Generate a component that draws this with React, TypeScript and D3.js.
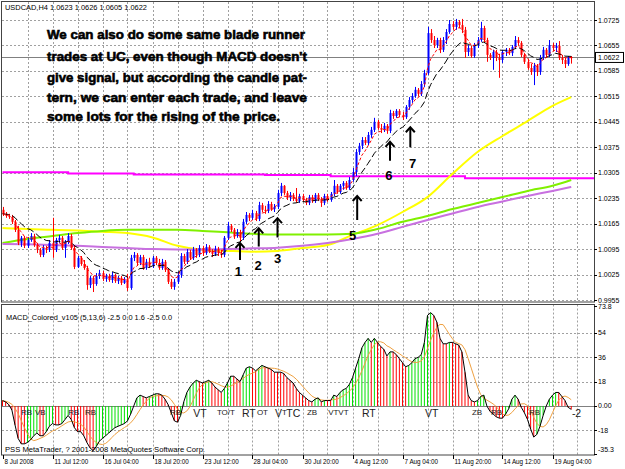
import React from "react";
import * as d3 from "d3";

// header / footer texts
const SYMBOL_HEADER = "USDCAD,H4  1.0623 1.0626 1.0605 1.0622";
const MACD_LEGEND = "MACD_Colored_v105 (5,13,6) -2.5 0.0 1.6 -2.5 0.0";
const COPYRIGHT = "PSS MetaTrader, ? 2001-2008 MetaQuotes Software Corp.";

const NOTE_LINES = [
  "We can also do some same blade runner",
  "trades at UC, even though MACD doesn't",
  "give signal, but according the candle pat-",
  "tern, we can enter each trade, and leave",
  "some lots for the rising of the price.",
];

// H4 candles, open of each bar = close of the previous one
const FIRST_OPEN = 1.0203;
const CLOSES = [
  1.0192, 1.0186, 1.0183, 1.017, 1.0148, 1.0112, 1.0126, 1.0104, 1.012, 1.0131,
  1.0106, 1.0093, 1.0079, 1.0098, 1.0093, 1.0112, 1.0093, 1.012, 1.0126, 1.0098,
  1.0115, 1.0131, 1.0098, 1.0046, 1.0071, 1.0054, 1.0043, 0.9996, 1.0016, 0.9999,
  1.0021, 1.0029, 1.0013, 1.0021, 1.001, 1.0024, 1.0007, 1.0016, 1.0002, 1.0013,
  0.9988, 1.0071, 1.0079, 1.0057, 1.0073, 1.0043, 1.006, 1.0049, 1.0071, 1.0057,
  1.0043, 1.006, 1.0038, 1.0005, 0.9991, 1.0005, 1.0024, 1.0076, 1.006, 1.0087,
  1.0071, 1.0093, 1.0079, 1.0098, 1.0084, 1.0101, 1.009, 1.0082, 1.0095, 1.0084,
  1.0079, 1.0126, 1.0159, 1.0148, 1.0131, 1.0142, 1.0126, 1.017, 1.0189, 1.0181,
  1.0194, 1.0178, 1.0216, 1.0203, 1.02, 1.0219, 1.0205, 1.0211, 1.0249, 1.0269,
  1.0249, 1.0236, 1.0244, 1.0233, 1.0227, 1.0241, 1.023, 1.0222, 1.0238, 1.0227,
  1.0244, 1.0233, 1.0222, 1.0241, 1.023, 1.0247, 1.0269, 1.0252, 1.0269, 1.0277,
  1.0263, 1.0285, 1.0307, 1.0362, 1.0379, 1.0395, 1.0387, 1.0409, 1.0423, 1.0445,
  1.0428, 1.0423, 1.0434, 1.042, 1.0469, 1.0461, 1.0475, 1.0464, 1.0458, 1.0486,
  1.0505, 1.0516, 1.0533, 1.0522, 1.0549, 1.0579, 1.0689, 1.067, 1.0656, 1.067,
  1.0643, 1.067, 1.0692, 1.0714, 1.0706, 1.072, 1.0711, 1.0698, 1.0637, 1.0648,
  1.0626, 1.0656, 1.067, 1.0703, 1.067, 1.0629, 1.0621, 1.0637, 1.0621, 1.0615,
  1.0637, 1.0643, 1.0634, 1.0651, 1.067, 1.0662, 1.0629, 1.061, 1.0593, 1.0582,
  1.0599, 1.0582, 1.0621, 1.0643, 1.0629, 1.0656, 1.0648, 1.0654, 1.0621, 1.0615,
  1.0604, 1.0623, 1.0622,
];
const HIGHS = [
  1.0211, 1.0197, 1.0192, 1.0189, 1.0175, 1.0159, 1.0131, 1.0131, 1.0126, 1.0139,
  1.0137, 1.0112, 1.0098, 1.0106, 1.0104, 1.012, 1.0181, 1.0126, 1.0134, 1.0131,
  1.012, 1.0139, 1.0137, 1.0106, 1.0076, 1.0076, 1.0065, 1.0049, 1.0021, 1.0021,
  1.0029, 1.0038, 1.0035, 1.0027, 1.0027, 1.0032, 1.0027, 1.0021, 1.0021, 1.0018,
  1.0027, 1.0079, 1.0087, 1.0084, 1.0079, 1.0079, 1.0068, 1.0071, 1.0076, 1.0076,
  1.0068, 1.0068, 1.0065, 1.0043, 1.0013, 1.0013, 1.0032, 1.0084, 1.0082, 1.0095,
  1.0093, 1.0101, 1.0098, 1.0106, 1.0104, 1.0109, 1.0106, 1.0095, 1.0104, 1.0101,
  1.0093, 1.0131, 1.017, 1.0164, 1.0153, 1.015, 1.0148, 1.0178, 1.0197, 1.0194,
  1.0203, 1.02, 1.0225, 1.0222, 1.0214, 1.0227, 1.0225, 1.0219, 1.0258, 1.0277,
  1.0271, 1.0255, 1.0252, 1.0249, 1.0263, 1.0247, 1.0247, 1.0236, 1.0244, 1.0244,
  1.0249, 1.0249, 1.0238, 1.0247, 1.0247, 1.0252, 1.0285, 1.0274, 1.0274, 1.0282,
  1.0282, 1.0293, 1.0318, 1.037, 1.0387, 1.0403, 1.0403, 1.0417, 1.0431, 1.0456,
  1.045, 1.0439, 1.0442, 1.0439, 1.0478, 1.0475, 1.048, 1.048, 1.0472, 1.0491,
  1.0513, 1.0524, 1.0541, 1.0538, 1.0557, 1.0588, 1.0706, 1.07, 1.0681, 1.0676,
  1.0676, 1.0678, 1.07, 1.0725, 1.0722, 1.0728, 1.0725, 1.0728, 1.0706, 1.0656,
  1.0654, 1.0662, 1.0678, 1.072, 1.0709, 1.0676, 1.0634, 1.0643, 1.0643, 1.0632,
  1.0643, 1.0648, 1.0648, 1.0656, 1.0681, 1.0678, 1.0667, 1.0634, 1.0615, 1.0604,
  1.0607, 1.0604, 1.0629, 1.0651, 1.0648, 1.067, 1.0662, 1.0662, 1.0667, 1.0629,
  1.0621, 1.0626, 1.0626,
];
const LOWS = [
  1.0186, 1.0181, 1.0178, 1.0164, 1.0142, 1.0106, 1.0101, 1.0098, 1.0098, 1.0115,
  1.0101, 1.0084, 1.0073, 1.0073, 1.0084, 1.0087, 1.0071, 1.0087, 1.0112, 1.0093,
  1.0071, 1.0109, 1.0093, 1.004, 1.0043, 1.0049, 1.0038, 0.9983, 0.9988, 0.9977,
  0.9994, 1.0013, 1.0007, 1.0005, 1.0005, 1.0002, 1.0002, 0.9999, 0.9996, 0.9999,
  0.998, 0.9983, 1.0062, 1.0049, 1.0051, 1.0038, 1.0038, 1.0043, 1.0043, 1.0051,
  1.0038, 1.0038, 1.0032, 0.9999, 0.9985, 0.9983, 0.9999, 1.0016, 1.0054, 1.0054,
  1.0065, 1.0065, 1.0071, 1.0073, 1.0076, 1.0079, 1.0084, 1.0073, 1.0076, 1.0076,
  1.0071, 1.0073, 1.012, 1.0142, 1.0123, 1.0126, 1.0117, 1.012, 1.0164, 1.0172,
  1.0175, 1.0172, 1.0172, 1.0197, 1.0192, 1.0194, 1.02, 1.0197, 1.0205, 1.0241,
  1.0244, 1.023, 1.0227, 1.0227, 1.0222, 1.0222, 1.0225, 1.0216, 1.0216, 1.0222,
  1.0222, 1.0227, 1.0211, 1.0216, 1.0225, 1.0225, 1.0241, 1.0247, 1.0247, 1.0258,
  1.0258, 1.0258, 1.028, 1.0296, 1.0354, 1.037, 1.0381, 1.0381, 1.0401, 1.0417,
  1.0423, 1.0414, 1.0417, 1.0412, 1.0414, 1.0453, 1.0456, 1.0458, 1.045, 1.0453,
  1.0478, 1.0497, 1.0511, 1.0516, 1.0516, 1.0541, 1.0574, 1.0662, 1.0648, 1.0648,
  1.0634, 1.0637, 1.0659, 1.0687, 1.0698, 1.0698, 1.0703, 1.0689, 1.0621, 1.0626,
  1.0621, 1.0621, 1.0648, 1.0665, 1.0662, 1.061, 1.0615, 1.0588, 1.0612, 1.0566,
  1.0607, 1.0626, 1.0629, 1.0626, 1.0645, 1.0654, 1.0623, 1.0604, 1.0588, 1.0574,
  1.0546, 1.0571, 1.0574, 1.0615, 1.0623, 1.0623, 1.064, 1.0637, 1.0615, 1.0604,
  1.0593, 1.0599, 1.0605,
];

// MACD main line
const MACD = [
  4, 3, 1, -3, -14, -24, -28, -28, -27, -25,
  -22, -20, -22, -22, -19, -15, -13, -14, -14, -13,
  -10, -7, -10, -16, -19, -19, -22, -27, -31, -33,
  -30, -26, -24, -22, -20, -18, -16, -15, -14, -13,
  -11, -6, 0, 6, 8, 7, 6, 7, 8, 9,
  9, 8, 5, 1, -5, -11, -12, -7, 3, 10,
  14, 17, 19, 18, 17, 18, 19, 17, 14, 12,
  10, 13, 17, 22, 22, 20, 18, 23, 28, 29,
  28, 26, 28, 30, 29, 28, 27, 25, 25, 25,
  24, 21, 19, 17, 13, 10, 8, 6, 4, 3,
  5, 6, 3, 4, 4, 4, 8, 7, 10, 12,
  13, 16, 21, 28, 35, 43, 47, 50, 47, 50,
  47, 44, 42, 37, 40, 40, 38, 35, 32, 29,
  30, 32, 35, 36, 38, 47, 67, 69, 67, 62,
  50, 46, 46, 47, 47, 46, 45, 40, 25, 8,
  4, 3, 4, 7, 8, 0, -4, -6, -8, -9,
  -9, -6, -2, 5, 8, 5, -1, -5, -10, -17,
  -23, -21, -15, -7, 0, 5, 8, 10, 10, 7,
  4, -1, -2.5,
];

// long moving averages, read every 8 bars
const MA_BARS = [0, 8, 16, 24, 32, 40, 48, 56, 64, 72, 80, 88, 96, 104, 112, 120, 128, 136, 144, 152, 160, 168, 176, 182];
const YELLOW_MA = [1.0153, 1.015, 1.0148, 1.0146, 1.0143, 1.0139, 1.0127, 1.0104, 1.0093, 1.009, 1.0088, 1.009, 1.0098, 1.0106, 1.0134, 1.0161, 1.0197, 1.0238, 1.0302, 1.0362, 1.0406, 1.0447, 1.0489, 1.0513];
const GREEN_MA = [1.0112, 1.0123, 1.0131, 1.0139, 1.0145, 1.0148, 1.0148, 1.0148, 1.0145, 1.0141, 1.0137, 1.0135, 1.0135, 1.0135, 1.0137, 1.015, 1.017, 1.0186, 1.0205, 1.0222, 1.0238, 1.0255, 1.0269, 1.0285];
const PURPLE_MA = [1.0109, 1.0108, 1.0106, 1.0104, 1.0101, 1.0098, 1.0095, 1.0094, 1.0094, 1.0095, 1.0097, 1.0099, 1.0104, 1.0112, 1.0123, 1.0137, 1.0156, 1.0175, 1.0193, 1.0211, 1.0226, 1.0241, 1.0255, 1.0266];
const MAGENTA_BARS = [0, 21, 42, 84, 105, 148, 190];
const MAGENTA_MA = [1.0306, 1.0303, 1.03, 1.0299, 1.0295, 1.029, 1.029];

const PRICE_TICKS = [1.0725, 1.0655, 1.0585, 1.0515, 1.0445, 1.0375, 1.0305, 1.0235, 1.0165, 1.0095, 1.0025, 0.9955];
const MACD_TICKS = [73.8, 54, 36, 18, 0, -18, -35.3];
const MACD_TICK_TEXT = ["73.8", "54", "36", "18", "0.00", "-18", "-35.3"];
const MACD_GRID = [54, 36, 18, -18];
const BID = 1.0622;

const TIME_LABELS = ["8 Jul 2008", "11 Jul 12:00", "16 Jul 04:00", "18 Jul 20:00", "23 Jul 12:00", "28 Jul 04:00", "30 Jul 20:00", "4 Aug 12:00", "7 Aug 04:00", "11 Aug 20:00", "14 Aug 12:00", "19 Aug 04:00"];
const TIME_LABEL_BARS = [0, 16, 32, 48, 64, 80, 96, 112, 128, 144, 160, 176];

const ARROWS = [
  { label: "1", bar: 76, tip: 1.0112, base: 1.0065, textBar: 75.5, textPrice: 1.0021 },
  { label: "2", bar: 82, tip: 1.0152, base: 1.0102, textBar: 81.8, textPrice: 1.0038 },
  { label: "3", bar: 88, tip: 1.018, base: 1.0127, textBar: 88, textPrice: 1.0057 },
  { label: "5", bar: 113.5, tip: 1.0241, base: 1.0175, textBar: 112, textPrice: 1.0121 },
  { label: "6", bar: 124, tip: 1.039, base: 1.0338, textBar: 123.6, textPrice: 1.0285 },
  { label: "7", bar: 130.5, tip: 1.043, base: 1.0375, textBar: 131.2, textPrice: 1.0317 },
];

const MACD_MARKS = [
  { text: "RB", bar: 5.9, big: false },
  { text: "VB", bar: 10.4, big: false },
  { text: "RB", bar: 21, big: false },
  { text: "RB", bar: 26.4, big: false },
  { text: "RB", bar: 53.6, big: false },
  { text: "VT", bar: 61, big: true },
  { text: "TO/T", bar: 68.6, big: false },
  { text: "RT", bar: 76.6, big: true },
  { text: "OT", bar: 81.4, big: false },
  { text: "V", bar: 87.2, big: true },
  { text: "T", bar: 89.4, big: false },
  { text: "TC", bar: 90.8, big: true },
  { text: "ZB", bar: 97.4, big: false },
  { text: "VTVT", bar: 104.2, big: false },
  { text: "RT", bar: 115, big: true },
  { text: "VT", bar: 135.2, big: true },
  { text: "ZB", bar: 150.2, big: false },
  { text: "RB", bar: 156.3, big: false },
  { text: "RB", bar: 168.5, big: false },
  { text: "-2", bar: 182.2, big: true },
];

function ema(values: number[], period: number) {
  const k = 2 / (period + 1);
  const out: number[] = [];
  values.forEach((v, i) => out.push(i === 0 ? v : out[i - 1] + k * (v - out[i - 1])));
  return out;
}

function sma(values: number[], period: number) {
  return values.map((_, i) => d3.mean(values.slice(Math.max(0, i - period + 1), i + 1)) as number);
}

const FONT = "'Liberation Sans', Arial, sans-serif";

export default function App() {
  const left = 2, right = 594, top = 2, mainBottom = 302, macdTop = 304.5, bottom = 455;

  const x = d3.scaleLinear().domain([0, 182]).range([2.5, 571.25]);
  const y = d3.scaleLinear().domain([0.9955, 1.0725]).range([300, 20]);
  const ym = d3.scaleLinear().domain([-35.3, 73.8]).range([453.7, 306.2]);

  const opens = CLOSES.map((c, i) => (i === 0 ? FIRST_OPEN : CLOSES[i - 1]));
  const fast = ema(CLOSES, 5);
  const slow = ema(CLOSES, 13);
  const signal = sma(MACD, 6);

  const seriesLine = d3.line<number>().x((_, i) => x(i)).y((d) => y(d));
  const sampledLine = (bars: number[], vals: number[], curve: any) =>
    d3.line<number>().x((_, i) => x(bars[i])).y((d) => y(d)).curve(curve)(vals) || "";
  const macdLine = d3.line<number>().x((_, i) => x(i)).y((d) => ym(d));

  const gridBars = d3.range(8, 185, 8);

  return (
    <div style={{ position: "absolute", left: 0, top: 0 }}>
      <svg width={625} height={469} style={{ display: "block", background: "#fff" }} fontFamily={FONT}>
        <defs>
          <clipPath id="clipMain">
            <rect x={left} y={top} width={right - left} height={mainBottom - top} />
          </clipPath>
          <clipPath id="clipMacd">
            <rect x={left} y={macdTop} width={right - left} height={bottom - macdTop} />
          </clipPath>
        </defs>

        {/* main panel */}
        <g clipPath="url(#clipMain)">
          {PRICE_TICKS.map((p) => (
            <line key={p} x1={left} x2={right} y1={Math.round(y(p)) + 0.5} y2={Math.round(y(p)) + 0.5}
              stroke="#a0a0a0" strokeDasharray="2,2" />
          ))}
          {gridBars.map((b) => (
            <line key={b} x1={Math.round(x(b)) + 0.5} x2={Math.round(x(b)) + 0.5} y1={top} y2={mainBottom}
              stroke="#a0a0a0" strokeDasharray="2,2" />
          ))}
          <line x1={left} x2={right} y1={Math.round(y(BID)) + 0.5} y2={Math.round(y(BID)) + 0.5} stroke="#808080" />

          <path d={sampledLine(MAGENTA_BARS, MAGENTA_MA, d3.curveStepAfter)} fill="none" stroke="#ff00ff" strokeWidth={2} />
          <path d={sampledLine(MA_BARS, YELLOW_MA, d3.curveMonotoneX)} fill="none" stroke="#ffff00" strokeWidth={2} />
          <path d={sampledLine(MA_BARS, GREEN_MA, d3.curveMonotoneX)} fill="none" stroke="#80f000" strokeWidth={2} />
          <path d={sampledLine(MA_BARS, PURPLE_MA, d3.curveMonotoneX)} fill="none" stroke="#c870e0" strokeWidth={2} />

          {CLOSES.map((c, i) => {
            const o = opens[i];
            const up = c >= o;
            const col = up ? "#0000ff" : "#ff0000";
            const cx = Math.round(x(i));
            const hi = Math.max(HIGHS[i], o, c);
            const lo = Math.min(LOWS[i], o, c);
            const yTop = y(Math.max(o, c));
            const yBot = y(Math.min(o, c));
            return (
              <g key={i}>
                <line x1={cx + 0.5} x2={cx + 0.5} y1={y(hi)} y2={y(lo)} stroke={col} />
                <rect x={cx - 0.5} y={yTop} width={2} height={Math.max(1, yBot - yTop)} fill={col} />
              </g>
            );
          })}

          <path d={seriesLine(slow) || ""} fill="none" stroke="#000" strokeWidth={1} strokeDasharray="7,3" />
          <path d={seriesLine(fast) || ""} fill="none" stroke="#ff0000" strokeWidth={1} strokeDasharray="3,2" />

          {ARROWS.map((a) => {
            const ax = x(a.bar);
            const ty = y(a.tip);
            return (
              <g key={a.label}>
                <line x1={ax} x2={ax} y1={y(a.base)} y2={ty + 1} stroke="#000" strokeWidth={2} />
                <polyline points={`${ax - 4.5},${ty + 5} ${ax},${ty} ${ax + 4.5},${ty + 5}`} fill="none" stroke="#000" strokeWidth={2} />
                <text x={x(a.textBar)} y={y(a.textPrice)} textAnchor="middle" fontSize={13} fontWeight="bold" fill="#000">
                  {a.label}
                </text>
              </g>
            );
          })}

          {NOTE_LINES.map((t, i) => (
            <text key={i} x={47} y={[38.5, 60.5, 81.5, 101.5, 121][i]} fontSize={13} fontWeight="bold"
              fill="#000" stroke="#000" strokeWidth={0.6}
              textLength={[258, 260, 260, 260, 233][i]} lengthAdjust="spacingAndGlyphs">
              {t}
            </text>
          ))}
        </g>
        <text x={5} y={10} fontSize={7} fill="#000" textLength={142} lengthAdjust="spacingAndGlyphs">{SYMBOL_HEADER}</text>

        {/* MACD panel */}
        <g clipPath="url(#clipMacd)">
          {MACD_GRID.map((v) => (
            <line key={v} x1={left} x2={right} y1={Math.round(ym(v)) + 0.5} y2={Math.round(ym(v)) + 0.5}
              stroke="#a0a0a0" strokeDasharray="2,2" />
          ))}
          {gridBars.map((b) => (
            <line key={b} x1={Math.round(x(b)) + 0.5} x2={Math.round(x(b)) + 0.5} y1={macdTop} y2={bottom}
              stroke="#a0a0a0" strokeDasharray="2,2" />
          ))}
          <line x1={left} x2={right} y1={Math.round(ym(0)) + 0.5} y2={Math.round(ym(0)) + 0.5} stroke="#808080" />
          {MACD.map((v, i) => (
            <line key={i} x1={x(i)} x2={x(i)} y1={ym(0)} y2={ym(v)}
              stroke={i > 0 && v > MACD[i - 1] ? "#00e000" : "#ff0000"} strokeWidth={1} />
          ))}
          <path d={macdLine(signal) || ""} fill="none" stroke="#eea040" strokeWidth={1} />
          <path d={macdLine(MACD) || ""} fill="none" stroke="#000" strokeWidth={1} />
          {MACD_MARKS.map((m, i) => (
            <text key={i} x={x(m.bar)} y={ym(m.big ? -8.5 : -7)} fontSize={m.big ? 10.5 : 8} fill="#222">
              {m.text}
            </text>
          ))}
        </g>
        <text x={6} y={320} fontSize={7} fill="#000" textLength={166} lengthAdjust="spacingAndGlyphs">{MACD_LEGEND}</text>
        <text x={5} y={452} fontSize={7.5} fill="#000" textLength={200} lengthAdjust="spacingAndGlyphs">{COPYRIGHT}</text>

        {/* frames */}
        <rect x={left - 0.5} y={top - 0.5} width={right - left + 1} height={mainBottom - top + 0.5} fill="none" stroke="#444" />
        <rect x={left - 0.5} y={macdTop} width={right - left + 1} height={bottom - macdTop} fill="none" stroke="#444" />

        {/* price axis */}
        {PRICE_TICKS.map((p) => (
          <g key={p}>
            <line x1={right} x2={right + 3} y1={Math.round(y(p)) + 0.5} y2={Math.round(y(p)) + 0.5} stroke="#000" />
            <text x={598} y={y(p) + 2.5} fontSize={7} fill="#000">{p.toFixed(4)}</text>
          </g>
        ))}
        <rect x={595.5} y={y(BID) - 5} width={28} height={10} fill="#fff" stroke="#000" />
        <text x={598} y={y(BID) + 2.5} fontSize={7} fill="#000">{BID.toFixed(4)}</text>

        {/* MACD axis */}
        {MACD_TICKS.map((v, i) => (
          <g key={v}>
            <line x1={right} x2={right + 3} y1={Math.round(ym(v)) + 0.5} y2={Math.round(ym(v)) + 0.5} stroke="#000" />
            <text x={598} y={Math.min(ym(v) + 2.5, 452)} fontSize={7} fill="#000">{MACD_TICK_TEXT[i]}</text>
          </g>
        ))}

        {/* time axis */}
        {TIME_LABELS.map((t, i) => {
          const tx = Math.round(x(TIME_LABEL_BARS[i])) + 0.5;
          return (
            <g key={t}>
              <line x1={tx} x2={tx} y1={bottom} y2={bottom + 4} stroke="#000" />
              <text x={tx + 1} y={464} fontSize={6.3} fill="#000">{t}</text>
            </g>
          );
        })}
      </svg>
    </div>
  );
}
